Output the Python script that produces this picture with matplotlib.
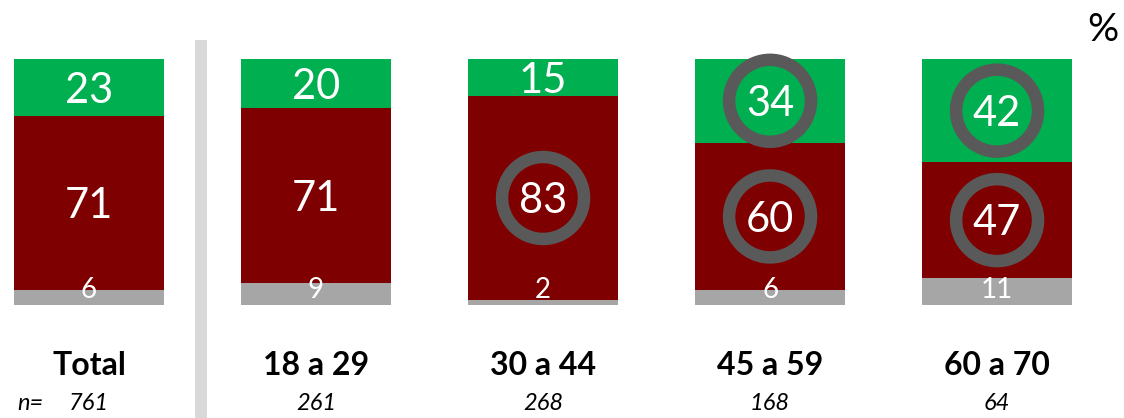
import numpy as np
import matplotlib.pyplot as plt

plt.rcParams['font.family'] = ['Lato', 'DejaVu Sans']

# Data
groups = ['Total', '18 a 29', '30 a 44', '45 a 59', '60 a 70']
n_vals = ['761', '261', '268', '168', '64']
bottom_vals = [6, 9, 2, 6, 11]      # grey
mid_vals = [71, 71, 83, 60, 47]     # dark red
top_vals = [23, 20, 15, 34, 42]     # green
mid_circled = [False, False, True, True, True]
top_circled = [False, False, False, True, True]

green = '#00B050'
red = '#7F0000'
grey = '#A6A6A6'
ring = '#595959'

fig = plt.figure(figsize=(11.24, 4.18), dpi=100)
ax = fig.add_axes([0, 0, 1, 1])
ax.set_xlim(-0.392, 4.559)
ax.set_ylim(-45.93, 123.98)
ax.axis('off')

x = np.arange(len(groups))
w = 0.66
b = np.array(bottom_vals)
m = np.array(mid_vals)
t = np.array(top_vals)

ax.bar(x, b, w, color=grey)
ax.bar(x, m, w, bottom=b, color=red)
ax.bar(x, t, w, bottom=b + m, color=green)

# separator
ax.plot([0.493, 0.493], [107.7, -46], color='#D9D9D9', lw=8.6, solid_capstyle='butt')

off = 6.2  # baseline offset so digits sit centred in the segment
for i in range(len(groups)):
    ax.text(x[i], 2.85, str(b[i]), ha='center', va='baseline', color='white', fontsize=20)
    ym = b[i] + m[i] / 2
    yt = b[i] + m[i] + t[i] / 2
    ax.text(x[i], ym - off, str(m[i]), ha='center', va='baseline', color='white', fontsize=30)
    ax.text(x[i], yt - off, str(t[i]), ha='center', va='baseline', color='white', fontsize=30)
    if mid_circled[i]:
        ax.scatter([x[i]], [ym], s=59**2, facecolors='none', edgecolors=ring, linewidths=9, zorder=3)
    if top_circled[i]:
        ax.scatter([x[i]], [yt], s=59**2, facecolors='none', edgecolors=ring, linewidths=9, zorder=3)
    ax.text(x[i], -28.5, groups[i], ha='center', va='baseline', fontsize=23, fontweight='bold')
    ax.text(x[i], -42.7, n_vals[i], ha='center', va='baseline', fontsize=17, style='italic')

ax.text(-0.317, -42.7, 'n=', ha='left', va='baseline', fontsize=17, style='italic')
ax.text(4.533, 111.8, '%', ha='right', va='center', fontsize=28)

fig.savefig('out.png', dpi=100)
